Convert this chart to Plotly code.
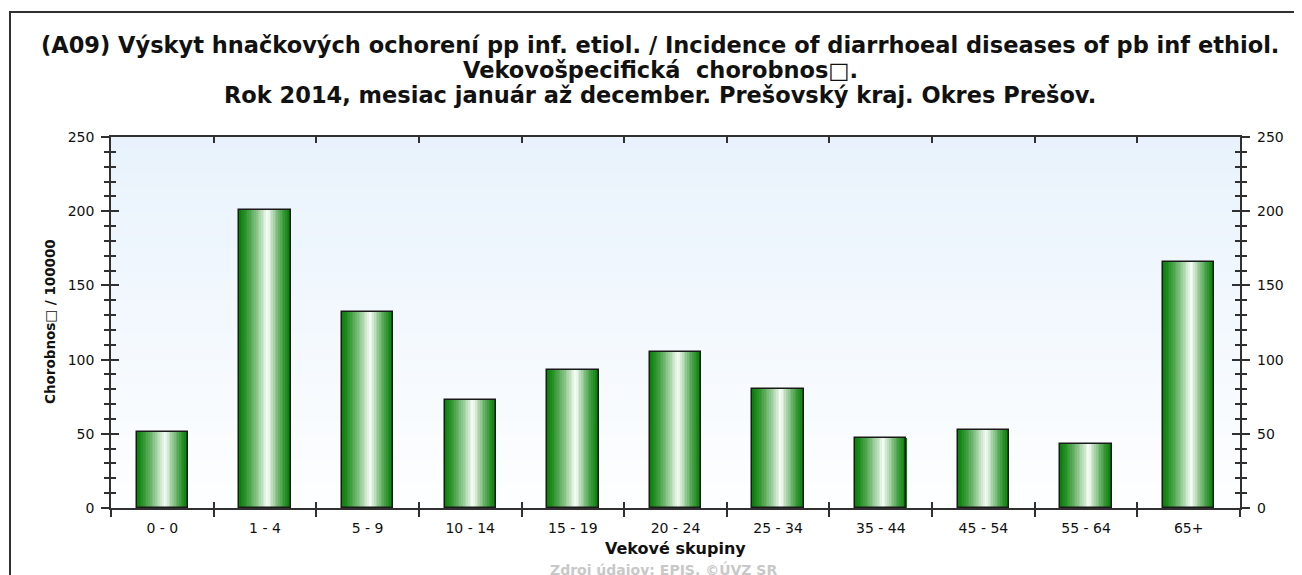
import plotly.graph_objects as go

# dáta - veková chorobnosť na 100000
vekove_skupiny = ['0 - 0', '1 - 4', '5 - 9', '10 - 14', '15 - 19', '20 - 24',
                  '25 - 34', '35 - 44', '45 - 54', '55 - 64', '65+']
chorobnost = [51.3, 200.8, 132.2, 72.8, 93.0, 105.3, 80.4, 47.5, 52.3, 42.9, 165.8]

TITLE_LINES = [
    '(A09) Výskyt hnačkových ochorení pp inf. etiol. / Incidence of diarrhoeal diseases of pb inf ethiol.',
    'Vekovošpecifická  chorobnos\u25a1.',
    'Rok 2014, mesiac január až december. Prešovský kraj. Okres Prešov.',
]

W, H = 1302, 575
OFF = 8  # okraj stránky v prehliadači
L, R, T, B = 111 - OFF, 70, 137 - OFF, 75
PW, PH = W - L - R, H - T - B
BAR_W = 0.5
N_STRIPS = 30
FONT = 'DejaVu Sans, Verdana, sans-serif'


def px(sx):
    return (sx - OFF - L) / PW


def py(sy):
    return (H - B - (sy - OFF)) / PH


def mix(c1, c2, t):
    return 'rgb(%d,%d,%d)' % tuple(round(a + (b - a) * t) for a, b in zip(c1, c2))


dark = (8, 128, 8)
light = (250, 254, 250)

fig = go.Figure()

# pruhy gradientu na stĺpcoch
sw = BAR_W / N_STRIPS
for i in range(N_STRIPS):
    t = (i + 0.5) / N_STRIPS
    d = abs(t - 0.56) / (0.56 if t < 0.56 else 0.44)
    k = max(0.0, 1 - d) ** 1.3
    fig.add_trace(go.Bar(
        x=vekove_skupiny, y=chorobnost,
        width=sw * 1.05, offset=-BAR_W / 2 + i * sw,
        marker=dict(color=mix(dark, light, k), line=dict(width=0)),
        showlegend=False, hoverinfo='skip'
    ))

# obrys stĺpcov
fig.add_trace(go.Bar(
    x=vekove_skupiny, y=chorobnost, width=BAR_W,
    marker=dict(color='rgba(0,0,0,0)', line=dict(color='#1a1a1a', width=1.5)),
    showlegend=False
))

# pomocné stopy pre prekryvné osi
fig.add_trace(go.Scatter(x=vekove_skupiny, y=chorobnost, xaxis='x2', yaxis='y2',
                         mode='none', showlegend=False, hoverinfo='skip'))
fig.add_trace(go.Scatter(x=vekove_skupiny, y=chorobnost, xaxis='x', yaxis='y3',
                         mode='none', showlegend=False, hoverinfo='skip'))

# pozadie s gradientom
n_bg = 30
for i in range(n_bg):
    t = i / n_bg
    fig.add_shape(type='rect', xref='x domain', yref='y domain',
                  x0=0, x1=1, y0=t, y1=t + 1.0 / n_bg + 0.002,
                  fillcolor=mix((253, 254, 255), (232, 242, 252), t),
                  line=dict(width=0), layer='below')

# rám
fig.add_shape(type='rect', xref='paper', yref='paper',
              x0=px(10), x1=px(1330), y0=py(620), y1=py(12),
              line=dict(color='#303030', width=2), fillcolor='rgba(0,0,0,0)')

axis_common = dict(showgrid=False, zeroline=False, linecolor='#303030', linewidth=1.5,
                   tickcolor='#303030', tickwidth=1.5)

fig.update_layout(
    width=W, height=H,
    margin=dict(l=L, r=R, t=T, b=B),
    paper_bgcolor='white', plot_bgcolor='rgba(0,0,0,0)',
    barmode='overlay', bargap=0,
    font=dict(family=FONT, size=14, color='#111'),
    xaxis=dict(type='category', range=[-0.5, 10.5], tickson='boundaries',
               ticks='outside', ticklen=7, showline=True, mirror=True,
               tickfont=dict(size=14), ticklabelstandoff=6, **axis_common),
    xaxis2=dict(type='category', range=[-0.5, 10.5], tickson='boundaries',
                overlaying='x', side='bottom', matches='x',
                ticks='inside', ticklen=6, showline=False, mirror='ticks',
                showticklabels=False, **axis_common),
    yaxis=dict(range=[0, 250], dtick=50, ticks='outside', ticklen=8,
               showline=True, mirror='ticks',
               minor=dict(dtick=10, ticks='outside', ticklen=5, tickcolor='#303030', tickwidth=1.5),
               tickfont=dict(size=14), ticklabelstandoff=4, **axis_common),
    yaxis2=dict(range=[0, 250], dtick=50, overlaying='y', side='right',
                ticks='inside', ticklen=8, mirror='ticks', showline=False,
                minor=dict(dtick=10, ticks='inside', ticklen=5, tickcolor='#303030', tickwidth=1.5),
                showticklabels=False, **axis_common),
    yaxis3=dict(range=[0, 250], dtick=50, overlaying='y', side='right',
                ticks='', showline=False, tickfont=dict(size=14),
                ticklabelstandoff=16, **axis_common),
)

# nadpis
for sy, line in zip([45, 70, 95], TITLE_LINES):
    fig.add_annotation(text='<b>' + line + '</b>', xref='paper', yref='paper', x=px(660), y=py(sy),
                       xanchor='center', yanchor='middle', showarrow=False,
                       font=dict(family='DejaVu Sans', size=22.5, color='#111'))

# názvy osí
fig.add_annotation(text='<b>Chorobnos\u25a1 / 100000</b>', textangle=-90,
                   xref='paper', yref='paper', x=px(50), y=py(322),
                   xanchor='center', yanchor='middle',
                   showarrow=False, font=dict(size=13.5, color='#111'))
fig.add_annotation(text='<b>Vekové skupiny</b>', xref='paper', yref='paper',
                   x=px(675), y=py(548), xanchor='center', yanchor='middle',
                   showarrow=False, font=dict(size=16, color='#111'))
fig.add_annotation(text='<b>Zdroj údajov: EPIS, ©ÚVZ SR</b>', xref='paper', yref='paper',
                   x=px(663), y=py(559), xanchor='center', yanchor='top', showarrow=False,
                   font=dict(size=14, color='#c8c8c8'))

fig.write_html('out.html')
